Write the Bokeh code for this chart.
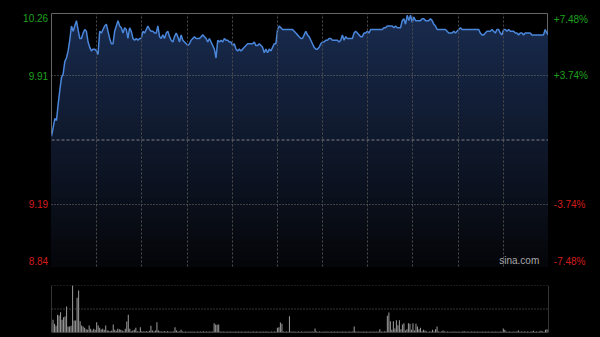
import numpy as np
from bokeh.plotting import figure
from bokeh.models import Range1d, Grid, FixedTicker, Span, Label
from bokeh.layouts import column, row
from bokeh.core.properties import value
from bokeh.embed import file_html
from bokeh.resources import INLINE

# ---- data (HK session, 330 minutes) ----
price_am1 = [9.57, 9.62, 9.67, 9.66, 9.75, 9.83, 9.90, 9.92, 9.99, 10.01,
             10.05, 10.11, 10.19, 10.16, 10.19, 10.22, 10.17, 10.12, 10.12, 10.15,
             10.17, 10.16, 10.10, 10.07, 10.05, 10.06, 10.06, 10.05, 10.03, 10.16,
             10.15, 10.17, 10.19, 10.20, 10.16, 10.12, 10.09, 10.09, 10.16, 10.19,
             10.22, 10.19, 10.18, 10.15, 10.18, 10.17, 10.12, 10.18, 10.16, 10.12,
             10.11, 10.12, 10.11, 10.12, 10.12, 10.16, 10.15, 10.17, 10.19, 10.17]
price_am2 = [10.16, 10.16, 10.15, 10.15, 10.19, 10.13, 10.12, 10.14, 10.12, 10.15,
             10.16, 10.13, 10.11, 10.10, 10.13, 10.15, 10.13, 10.10, 10.14, 10.11,
             10.10, 10.09, 10.08, 10.09, 10.11, 10.12, 10.13, 10.12, 10.12, 10.12,
             10.13, 10.14, 10.13, 10.12, 10.10, 10.12, 10.10, 10.08, 10.06, 10.01,
             10.11, 10.10, 10.11, 10.10, 10.12, 10.11, 10.11, 10.10, 10.10, 10.08,
             10.09, 10.06, 10.05, 10.06, 10.05, 10.06, 10.07, 10.08, 10.09, 10.09]
price_mid = [10.09, 10.09, 10.10, 10.08, 10.08, 10.09, 10.08, 10.07, 10.04, 10.06,
             10.04, 10.06, 10.05, 10.07, 10.09, 10.09, 10.17, 10.19, 10.18, 10.17,
             10.17, 10.17, 10.17, 10.17, 10.17, 10.17, 10.16, 10.15, 10.14, 10.13,
             10.12, 10.12, 10.14, 10.16, 10.14, 10.13, 10.11, 10.09, 10.07, 10.06,
             10.06, 10.07, 10.09, 10.10, 10.10, 10.11, 10.11, 10.12, 10.12, 10.11,
             10.11, 10.11, 10.11, 10.10, 10.11, 10.14, 10.11, 10.13, 10.12, 10.12]
price_pm1 = [10.12, 10.12, 10.15, 10.16, 10.15, 10.14, 10.13, 10.13, 10.15, 10.15,
             10.16, 10.15, 10.17, 10.17, 10.17, 10.17, 10.17, 10.17, 10.17, 10.17,
             10.18, 10.18, 10.19, 10.19, 10.19, 10.19, 10.18, 10.19, 10.18, 10.18,
             10.18, 10.22, 10.23, 10.20, 10.25, 10.22, 10.25, 10.21, 10.24, 10.22,
             10.22, 10.22, 10.22, 10.23, 10.23, 10.22, 10.22, 10.22, 10.23, 10.22,
             10.20, 10.19, 10.17, 10.17, 10.17, 10.17, 10.17, 10.17, 10.16, 10.15]
price_pm2 = [10.15, 10.15, 10.16, 10.15, 10.16, 10.17, 10.18, 10.17, 10.17, 10.17,
             10.17, 10.17, 10.17, 10.17, 10.17, 10.17, 10.17, 10.17, 10.15, 10.14,
             10.14, 10.15, 10.16, 10.16, 10.16, 10.17, 10.16, 10.15, 10.17, 10.17,
             10.15, 10.14, 10.17, 10.17, 10.16, 10.17, 10.16, 10.16, 10.16, 10.15,
             10.15, 10.14, 10.15, 10.15, 10.14, 10.15, 10.15, 10.15, 10.15, 10.14,
             10.14, 10.14, 10.14, 10.14, 10.14, 10.14, 10.14, 10.17, 10.15, 10.14]
price = price_am1 + price_am2 + price_mid + price_pm1 + price_pm2

volume = [
    28, 38, 26, 20, 53, 51, 61, 38, 46, 48,
    78, 18, 18, 20, 141, 36, 36, 104, 126, 34,
    21, 18, 14, 10, 8, 21, 11, 6, 11, 8,
    31, 21, 14, 9, 11, 8, 21, 6, 5, 4,
    6, 24, 8, 5, 11, 10, 8, 6, 4, 11,
    33, 53, 11, 4, 6, 8, 14, 4, 3, 16,
    4, 3, 3, 4, 3, 5, 20, 6, 3, 6,
    31, 6, 4, 3, 3, 4, 3, 4, 3, 2,
    3, 3, 16, 6, 3, 3, 8, 3, 2, 3,
    2, 2, 3, 2, 3, 2, 2, 3, 2, 3,
    2, 4, 2, 3, 2, 3, 2, 3, 28, 24,
    23, 24, 3, 2, 3, 2, 2, 3, 2, 3,
    2, 2, 3, 2, 3, 2, 3, 2, 2, 3,
    2, 3, 2, 2, 3, 2, 3, 2, 2, 3,
    2, 3, 2, 3, 2, 2, 3, 2, 3, 2,
    14, 16, 30, 26, 3, 2, 3, 2, 49, 3,
    2, 3, 2, 2, 3, 2, 3, 2, 2, 3,
    2, 3, 2, 3, 2, 12, 3, 2, 3, 2,
    2, 3, 2, 3, 2, 2, 3, 2, 3, 2,
    3, 2, 2, 3, 2, 3, 2, 2, 3, 2,
    3, 18, 3, 2, 3, 2, 2, 3, 2, 3,
    2, 2, 3, 2, 3, 2, 3, 2, 10, 3,
    2, 4, 3, 50, 60, 34, 8, 34, 12, 37,
    22, 37, 10, 24, 28, 6, 10, 28, 26, 8,
    28, 6, 26, 18, 10, 14, 4, 8, 6, 3,
    2, 3, 3, 8, 3, 10, 18, 3, 2, 3,
    6, 3, 2, 3, 2, 2, 3, 2, 3, 2,
    3, 2, 2, 3, 4, 2, 3, 2, 2, 3,
    2, 3, 2, 3, 2, 2, 3, 2, 3, 2,
    3, 2, 2, 3, 2, 3, 2, 2, 3, 2,
    12, 8, 3, 2, 3, 2, 2, 3, 2, 3,
    6, 2, 3, 2, 3, 2, 3, 2, 2, 3,
    5, 2, 3, 2, 3, 5, 3, 2, 8, 10,
    8]

prev_close = 9.55
price_ticks = [10.26, 9.91, 9.19, 8.84]
price_labels = ["10.26", "9.91", "9.19", "8.84"]
pct_labels = ["+7.48%", "+3.74%", "-3.74%", "-7.48%"]
grid_minutes = [30, 60, 90, 120, 150, 180, 210, 240, 270, 300]
session_minutes = 330
vol_full = 141

minutes = np.linspace(0, session_minutes, len(price))
vol_minutes = np.arange(len(volume))
price_arr = np.array(price)

FONT = "Liberation Sans"
GREEN = "#1ea01e"
RED = "#d21c1c"
label_colors = [GREEN, GREEN, RED, RED]
label_baselines = ["top", "middle", "middle", "bottom"]
left_yoff = [0, 0, 0, -2]
right_yoff = [0, 0, 0, 0]

LEFT_W, RIGHT_W, TOP_B, BOT_B, MAIN_H = 51, 52, 13, 4, 270
y_range = Range1d(price_ticks[-1], price_ticks[0])

p = figure(width=600 - LEFT_W - RIGHT_W, height=MAIN_H, x_range=Range1d(0, session_minutes),
           y_range=y_range,
           output_backend="svg", toolbar_location=None,
           x_axis_location=None, y_axis_location=None,
           min_border_left=0, min_border_right=0, min_border_top=TOP_B, min_border_bottom=BOT_B,
           background_fill_color="black", border_fill_color="black",
           outline_line_color="#666666")
p.grid.visible = False

# gradient-filled area under the price line
lo, hi = price_ticks[-1], price_ticks[0]
n_bands = 40
top_rgb = np.array([25, 43, 78])
bot_rgb = np.array([5, 6, 9])
for k in range(n_bands, 0, -1):
    band_hi = lo + (hi - lo) * k / n_bands
    t = k / n_bands
    c = (bot_rgb + (top_rgb - bot_rgb) * t).astype(int)
    col = "#%02x%02x%02x" % tuple(c)
    p.varea(x=minutes, y1=lo, y2=np.minimum(price_arr, band_hi), fill_color=col)

vgrid = Grid(dimension=0, ticker=FixedTicker(ticks=grid_minutes),
             grid_line_color="#4c4c4c", grid_line_dash="2 2", level="annotation")
hgrid = Grid(dimension=1, ticker=FixedTicker(ticks=[price_ticks[1], price_ticks[2]]),
             grid_line_color="#707070", grid_line_dash="1 2", level="annotation")
p.add_layout(vgrid)
p.add_layout(hgrid)
p.add_layout(Span(location=prev_close, dimension="width", line_color="#808080",
                  line_dash="3 2", line_width=1))

p.line(minutes, price, line_color="#4a86da", line_width=1.5)

p.add_layout(Label(x=297.3, y=lo, y_offset=1, text="sina.com", text_align="left",
                   text_baseline="bottom", text_color="#a8a8a8", text_font=FONT,
                   text_font_size="10px"))


def side_fig(w):
    f = figure(width=w, height=MAIN_H, x_range=Range1d(0, w), y_range=y_range,
               output_backend="svg", toolbar_location=None,
               x_axis_location=None, y_axis_location=None,
               min_border_left=0, min_border_right=0, min_border_top=TOP_B,
               min_border_bottom=BOT_B, background_fill_color="black",
               border_fill_color="black", outline_line_color=None)
    f.grid.visible = False
    return f


pl = side_fig(LEFT_W)
pr = side_fig(RIGHT_W)
for i in range(len(price_ticks)):
    pl.text(x=[LEFT_W - 3.4], y=[price_ticks[i]], text=[price_labels[i]],
            text_align="right", text_baseline=label_baselines[i], y_offset=left_yoff[i],
            text_color=label_colors[i], text_font=value(FONT), text_font_size="10px")
    pr.text(x=[5.3], y=[price_ticks[i]], text=[pct_labels[i]],
            text_align="left", text_baseline=label_baselines[i], y_offset=right_yoff[i],
            text_color=label_colors[i], text_font=value(FONT), text_font_size="10px")

pv = figure(width=600, height=67, x_range=Range1d(0, session_minutes),
            y_range=Range1d(0, vol_full),
            output_backend="svg", toolbar_location=None,
            x_axis_location=None, y_axis_location=None,
            min_border_left=LEFT_W, min_border_right=RIGHT_W, min_border_top=15, min_border_bottom=5,
            background_fill_color="black", border_fill_color="black",
            outline_line_color=None)
pv.grid.visible = False
pv.vbar(x=vol_minutes, top=volume, width=0.7, fill_color="#959595", line_color=None)
pv.add_layout(Span(location=vol_full, dimension="width", line_color="#6e6e6e", line_dash="1 2"))
pv.add_layout(Span(location=vol_full / 2, dimension="width", line_color="#6e6e6e", line_dash="1 2"))
pv.add_layout(Span(location=0, dimension="width", line_color="#666666"))
pv.add_layout(Span(location=0, dimension="height", line_color="#666666"))
pv.add_layout(Span(location=session_minutes, dimension="height", line_color="#666666"))

layout = column(row(pl, p, pr, spacing=0, background="black"), pv,
                spacing=0, background="black")
open("out.html", "w").write(file_html(layout, INLINE))
